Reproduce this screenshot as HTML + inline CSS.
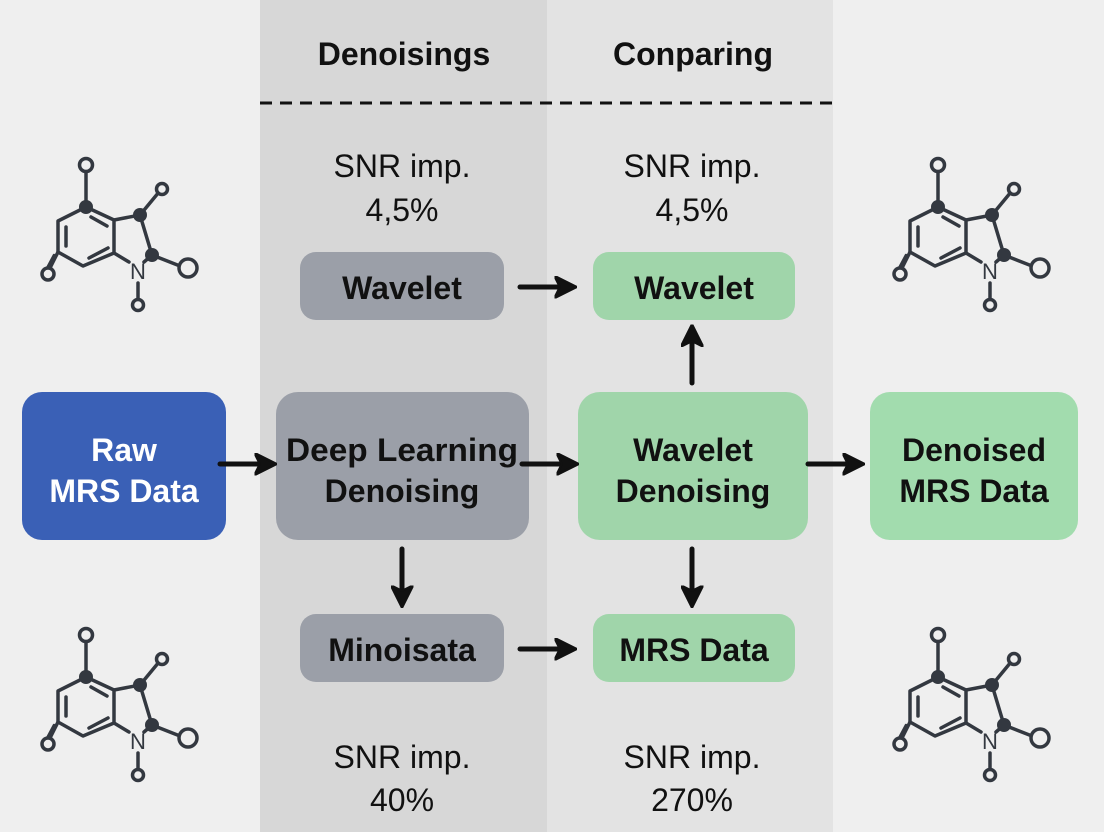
<!DOCTYPE html>
<html><head><meta charset="utf-8"><style>
html,body{margin:0;padding:0;background:#efefef;}
svg{display:block;}
text{font-family:"Liberation Sans",sans-serif;}
</style></head><body>
<svg width="1104" height="832" viewBox="0 0 1104 832" xmlns="http://www.w3.org/2000/svg">
<defs>
<marker id="ah" viewBox="0 0 10 10" refX="7" refY="5" markerWidth="4.5" markerHeight="4.5" orient="auto">
<path d="M0,0 L10,5 L0,10 L2.5,5 Z" fill="#111" stroke="#111" stroke-width="1" stroke-linejoin="round"/>
</marker>
<g id="mol" stroke="#333840" stroke-width="3.5" fill="none" stroke-linecap="round">
<line x1="86" y1="171" x2="86" y2="207"/>
<polygon points="86,207 58,221 58,252 83,266 114,253 114,220" stroke-linejoin="round"/>
<line x1="66" y1="227" x2="66" y2="246"/>
<line x1="89" y1="258" x2="108" y2="248"/>
<line x1="91" y1="217" x2="107" y2="226"/>
<polyline points="114,220 140,215 152,255 144,262"/>
<line x1="114" y1="253" x2="129" y2="262"/>
<line x1="140" y1="215" x2="159" y2="192"/>
<line x1="152" y1="255" x2="180" y2="266"/>
<line x1="138" y1="283" x2="138" y2="299"/>
<line x1="58" y1="252" x2="50" y2="268"/>
<line x1="54" y1="255" x2="46" y2="270" stroke-width="2.5"/>
<circle cx="86" cy="165" r="6.5" fill="#efefef"/>
<circle cx="162" cy="189" r="5.5" fill="#efefef"/>
<circle cx="188" cy="268" r="9" fill="#efefef"/>
<circle cx="138" cy="305" r="5.5" fill="#efefef"/>
<circle cx="48" cy="274" r="6" fill="#efefef"/>
<circle cx="86" cy="207" r="7" fill="#333840" stroke="none"/>
<circle cx="140" cy="215" r="7" fill="#333840" stroke="none"/>
<circle cx="152" cy="255" r="7" fill="#333840" stroke="none"/>
<text x="138" y="279" font-size="22" fill="#333840" stroke="none" text-anchor="middle">N</text>
</g>
</defs>
<rect x="0" y="0" width="1104" height="832" fill="#efefef"/>
<rect x="260" y="0" width="287" height="832" fill="#d7d7d7"/>
<rect x="547" y="0" width="286" height="832" fill="#e3e3e3"/>
<text x="404" y="65" font-size="32" font-weight="bold" text-anchor="middle" fill="#111">Denoisings</text>
<text x="693" y="65" font-size="32" font-weight="bold" text-anchor="middle" fill="#111">Conparing</text>
<line x1="260" y1="103" x2="832" y2="103" stroke="#111" stroke-width="3" stroke-dasharray="12,8"/>

<use href="#mol"/>
<use href="#mol" x="852"/>
<use href="#mol" y="470"/>
<use href="#mol" x="852" y="470"/>

<g font-size="32" text-anchor="middle" fill="#111">
<text x="402" y="177">SNR imp.</text><text x="402" y="221">4,5%</text>
<text x="692" y="177">SNR imp.</text><text x="692" y="221">4,5%</text>
<text x="402" y="768">SNR imp.</text><text x="402" y="811">40%</text>
<text x="692" y="768">SNR imp.</text><text x="692" y="811">270%</text>
</g>

<rect x="22" y="392" width="204" height="148" rx="20" fill="#3a60b6"/>
<rect x="276" y="392" width="253" height="148" rx="22" fill="#9b9fa8"/>
<rect x="578" y="392" width="230" height="148" rx="22" fill="#a0d5aa"/>
<rect x="870" y="392" width="208" height="148" rx="20" fill="#a2dcae"/>
<rect x="300" y="252" width="204" height="68" rx="16" fill="#9b9fa8"/>
<rect x="593" y="252" width="202" height="68" rx="16" fill="#a0d5aa"/>
<rect x="300" y="614" width="204" height="68" rx="16" fill="#9b9fa8"/>
<rect x="593" y="614" width="202" height="68" rx="16" fill="#a0d5aa"/>

<g font-size="32" font-weight="bold" text-anchor="middle" fill="#111">
<text x="124" y="461" fill="#fff">Raw</text><text x="124" y="502" fill="#fff">MRS Data</text>
<text x="402" y="461" textLength="232" lengthAdjust="spacingAndGlyphs">Deep Learning</text><text x="402" y="502">Denoising</text>
<text x="693" y="461">Wavelet</text><text x="693" y="502">Denoising</text>
<text x="974" y="461">Denoised</text><text x="974" y="502">MRS Data</text>
<text x="402" y="299">Wavelet</text>
<text x="694" y="299">Wavelet</text>
<text x="402" y="661">Minoisata</text>
<text x="694" y="661">MRS Data</text>
</g>

<g stroke="#111" stroke-width="5" stroke-linecap="round" marker-end="url(#ah)">
<line x1="220" y1="464" x2="270" y2="464"/>
<line x1="522" y1="464" x2="572" y2="464"/>
<line x1="808" y1="464" x2="858" y2="464"/>
<line x1="520" y1="287" x2="570" y2="287"/>
<line x1="520" y1="649" x2="570" y2="649"/>
<line x1="402" y1="549" x2="402" y2="601"/>
<line x1="692" y1="549" x2="692" y2="601"/>
<line x1="692" y1="383" x2="692" y2="331"/>
</g>
</svg>
</body></html>
